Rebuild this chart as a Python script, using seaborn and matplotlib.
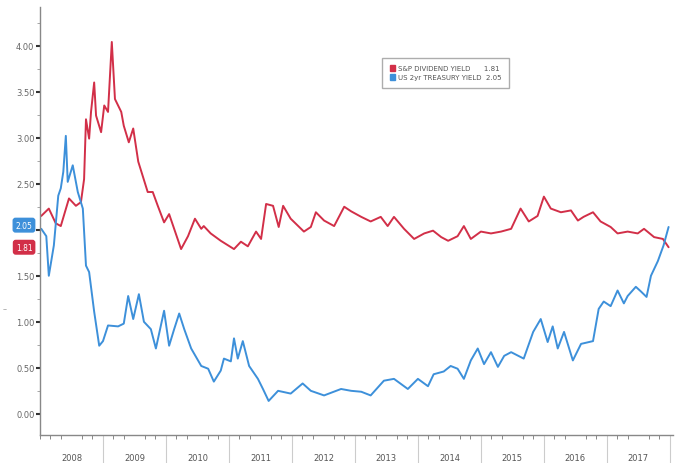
import numpy as np
import pandas as pd
import seaborn as sns
import matplotlib.pyplot as plt
from matplotlib.patches import Patch
from matplotlib.ticker import MultipleLocator

sns.set_style("white")
plt.rcParams['font.family'] = ['DejaVu Sans']

# S&P dividend yield (decimal year, %)
spx_year = [2008.02, 2008.14, 2008.25, 2008.33, 2008.46, 2008.57, 2008.65, 2008.70, 2008.73, 2008.78,
            2008.81, 2008.86, 2008.89, 2008.97, 2009.02, 2009.08, 2009.14, 2009.19, 2009.29, 2009.33,
            2009.41, 2009.48, 2009.56, 2009.71, 2009.79, 2009.87, 2009.97, 2010.05, 2010.13, 2010.24,
            2010.35, 2010.46, 2010.56, 2010.60, 2010.71, 2010.87, 2011.08, 2011.19, 2011.30, 2011.43,
            2011.51, 2011.59, 2011.70, 2011.79, 2011.86, 2011.98, 2012.19, 2012.30, 2012.38, 2012.51,
            2012.67, 2012.83, 2012.94, 2013.10, 2013.25, 2013.41, 2013.52, 2013.62, 2013.78, 2013.94,
            2014.10, 2014.24, 2014.37, 2014.48, 2014.63, 2014.73, 2014.84, 2015.00, 2015.16, 2015.32,
            2015.48, 2015.63, 2015.76, 2015.90, 2016.00, 2016.11, 2016.27, 2016.43, 2016.54, 2016.63,
            2016.78, 2016.90, 2017.06, 2017.17, 2017.33, 2017.49, 2017.59, 2017.75, 2017.89, 2017.98]
spx_yield = [2.15, 2.23, 2.07, 2.04, 2.34, 2.26, 2.30, 2.55, 3.20, 2.99,
             3.28, 3.60, 3.24, 3.06, 3.35, 3.28, 4.04, 3.42, 3.28, 3.13,
             2.95, 3.10, 2.74, 2.41, 2.41, 2.26, 2.08, 2.17, 2.01, 1.79,
             1.93, 2.12, 2.01, 2.04, 1.96, 1.88, 1.79, 1.87, 1.82, 1.98,
             1.90, 2.28, 2.26, 2.03, 2.26, 2.12, 1.98, 2.03, 2.19, 2.10,
             2.04, 2.25, 2.20, 2.14, 2.09, 2.14, 2.04, 2.14, 2.01, 1.90,
             1.96, 1.99, 1.92, 1.88, 1.93, 2.04, 1.90, 1.98, 1.96, 1.98,
             2.01, 2.23, 2.09, 2.15, 2.36, 2.23, 2.19, 2.21, 2.10, 2.14,
             2.19, 2.09, 2.03, 1.96, 1.98, 1.96, 2.01, 1.92, 1.90, 1.81]

# US 2yr treasury yield
ust_year = [2008.02, 2008.10, 2008.14, 2008.22, 2008.29, 2008.33, 2008.37, 2008.41, 2008.44, 2008.52,
            2008.60, 2008.68, 2008.73, 2008.78, 2008.86, 2008.94, 2009.00, 2009.08, 2009.24, 2009.33,
            2009.40, 2009.48, 2009.57, 2009.65, 2009.76, 2009.84, 2009.97, 2010.05, 2010.13, 2010.21,
            2010.29, 2010.40, 2010.56, 2010.67, 2010.76, 2010.87, 2010.92, 2011.03, 2011.08, 2011.14,
            2011.22, 2011.32, 2011.46, 2011.54, 2011.63, 2011.78, 2011.98, 2012.17, 2012.30, 2012.51,
            2012.78, 2012.94, 2013.10, 2013.25, 2013.46, 2013.62, 2013.84, 2014.00, 2014.16, 2014.25,
            2014.41, 2014.52, 2014.63, 2014.73, 2014.84, 2014.95, 2015.05, 2015.16, 2015.27, 2015.37,
            2015.48, 2015.68, 2015.83, 2015.95, 2016.06, 2016.14, 2016.22, 2016.32, 2016.46, 2016.59,
            2016.78, 2016.87, 2016.95, 2017.06, 2017.17, 2017.27, 2017.33, 2017.46, 2017.54, 2017.63,
            2017.70, 2017.81, 2017.90, 2017.98]
ust_yield = [2.01, 1.93, 1.50, 1.83, 2.37, 2.45, 2.63, 3.02, 2.52, 2.70,
             2.41, 2.23, 1.61, 1.54, 1.11, 0.74, 0.79, 0.96, 0.95, 0.98,
             1.28, 1.03, 1.30, 1.00, 0.92, 0.71, 1.12, 0.74, 0.92, 1.09,
             0.92, 0.71, 0.52, 0.49, 0.35, 0.47, 0.60, 0.57, 0.82, 0.60,
             0.79, 0.52, 0.38, 0.27, 0.14, 0.25, 0.22, 0.33, 0.25, 0.20,
             0.27, 0.25, 0.24, 0.20, 0.36, 0.38, 0.27, 0.38, 0.30, 0.43,
             0.46, 0.52, 0.49, 0.38, 0.58, 0.71, 0.54, 0.67, 0.51, 0.63,
             0.67, 0.60, 0.89, 1.03, 0.78, 0.95, 0.71, 0.89, 0.58, 0.76,
             0.79, 1.14, 1.22, 1.17, 1.34, 1.20, 1.28, 1.38, 1.33, 1.27,
             1.50, 1.66, 1.83, 2.03]

years = list(range(2008, 2018))
yticks = [0.0, 0.5, 1.0, 1.5, 2.0, 2.5, 3.0, 3.5, 4.0]
# 2.00 is hidden behind the last-value tags in the original
ytick_labels = ["0.00", "0.50", "1.00", "1.50", "", "2.50", "3.00", "3.50", "4.00"]
red = '#d22f48'
blue = '#3d90da'

fig = plt.figure(figsize=(6.9, 4.64), dpi=100)
ax = fig.add_axes([40 / 690, 28 / 464, 633 / 690, 428 / 464])

sns.lineplot(x=spx_year, y=spx_yield, color=red, lw=1.4, ax=ax)
sns.lineplot(x=ust_year, y=ust_yield, color=blue, lw=1.4, ax=ax)

ax.set_xlim(2008.0, 2018.05)
ax.set_ylim(-0.23, 4.42)

# y axis
ax.set_yticks(yticks)
ax.set_yticklabels(ytick_labels)
ax.yaxis.set_minor_locator(MultipleLocator(0.25))
ax.tick_params(axis='y', which='major', direction='out', length=3, width=1.5,
               color='#333333', labelsize=6, labelcolor='#666666', pad=1, left=True)
ax.tick_params(axis='y', which='minor', direction='out', length=2, width=0.6,
               color='#999999', left=True)

# x axis: year labels centred, bimonthly ticks
ax.set_xticks([y + 0.5 for y in years])
ax.set_xticklabels([str(y) for y in years])
ax.set_xticks(np.arange(2008, 2018.05, 1 / 6), minor=True)
ax.tick_params(axis='x', which='major', length=0, labelsize=6, labelcolor='#555555', pad=13)
ax.tick_params(axis='x', which='minor', direction='out', length=3, width=0.7,
               color='#888888', bottom=True)
for y in years[1:] + [2018]:
    ax.plot([y, y], [0, -0.065], transform=ax.get_xaxis_transform(),
            color='#cccccc', lw=0.8, clip_on=False)

for side in ['top', 'right']:
    ax.spines[side].set_visible(False)
for side in ['left', 'bottom']:
    ax.spines[side].set_color('#888888')
    ax.spines[side].set_linewidth(1.0)

# last value tags
tr = ax.get_yaxis_transform()
ax.text(-0.012, 2.05, "2.05", transform=tr, ha='right', va='center',
        fontsize=5.5, color='white',
        bbox=dict(boxstyle='round,pad=0.3', fc=blue, ec=blue))
ax.text(-0.012, 1.81, "1.81", transform=tr, ha='right', va='center',
        fontsize=5.5, color='white',
        bbox=dict(boxstyle='round,pad=0.3', fc=red, ec=red))
fig.text(0.004, 0.33, "--", fontsize=5, color='#888888')

handles = [Patch(color=red), Patch(color=blue)]
labels = ["S&P DIVIDEND YIELD      1.81", "US 2yr TREASURY YIELD  2.05"]
leg = ax.legend(handles, labels, loc='upper left', bbox_to_anchor=(0.535, 0.89),
                fontsize=5, frameon=True, handlelength=0.8, handleheight=0.8,
                handletextpad=0.4, labelspacing=0.45, borderpad=1.1, fancybox=False)
leg.get_frame().set_edgecolor('#999999')
leg.get_frame().set_linewidth(1.0)
for t in leg.get_texts():
    t.set_color('#555555')

fig.savefig("out.png", dpi=100)
